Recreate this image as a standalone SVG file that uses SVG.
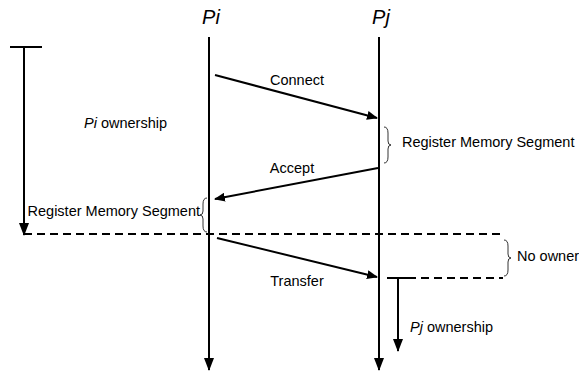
<svg xmlns="http://www.w3.org/2000/svg" width="579" height="375" viewBox="0 0 579 375">
<style>
.t{font-family:"Liberation Sans",Arial,sans-serif;font-size:14.5px;fill:#000}
.h{font-family:"Liberation Sans",Arial,sans-serif;font-size:20px;font-style:italic;fill:#000}
.s{stroke:#000;stroke-width:2;fill:none}
.d{stroke:#000;stroke-width:2;fill:none;stroke-dasharray:8,5}
.b{stroke:#000;stroke-width:0.8;fill:none}
</style>
<defs>
<marker id="ah" markerWidth="11" markerHeight="9" refX="10" refY="4.5" orient="auto" markerUnits="userSpaceOnUse">
<path d="M0,0 L11,4.5 L0,9 Z" fill="#000"/>
</marker>
<marker id="av" markerWidth="14" markerHeight="12" refX="12" refY="5" orient="auto" markerUnits="userSpaceOnUse">
<path d="M0,0 L13,5 L0,10 Z" fill="#000"/>
</marker>
</defs>
<g id="Pi">
<text class="h" x="211" y="24" text-anchor="middle">Pi</text>
<line class="s" x1="209" y1="37" x2="209" y2="370" marker-end="url(#av)"/>
</g>
<g id="Pj">
<text class="h" x="381" y="24" text-anchor="middle">Pj</text>
<line class="s" x1="379" y1="37" x2="379" y2="370" marker-end="url(#av)"/>
</g>
<g id="pi-ownership">
<line class="s" x1="10" y1="47" x2="42" y2="47"/>
<line class="s" x1="24" y1="47" x2="24" y2="235" marker-end="url(#av)"/>
<text class="t" x="84" y="128"><tspan font-style="italic">Pi</tspan> ownership</text>
</g>
<g id="pj-ownership">
<line class="s" x1="387" y1="278" x2="408" y2="278"/>
<line class="s" x1="398" y1="278" x2="398" y2="351" marker-end="url(#av)"/>
<text class="t" x="410" y="332"><tspan font-style="italic">Pj</tspan> ownership</text>
</g>
<g id="no-owner">
<path class="b" d="M504,240 Q508,240 508,246 L508,254 Q508,258 511,258 Q508,258 508,262 L508,270 Q508,276 504,276"/>
<text class="t" x="517" y="261">No owner</text>
</g>
<g id="reg-pj">
<path class="b" d="M384,127 Q388,127 388,133 L388,141 Q388,145 391,145 Q388,145 388,149 L388,157 Q388,163 384,163"/>
<text class="t" x="402" y="147">Register Memory Segment</text>
</g>
<g id="reg-pi">
<path class="b" d="M207,198 Q203,198 203,204 L203,211 Q203,215 200,215 Q203,215 203,219 L203,226 Q203,232 207,232"/>
<text class="t" x="200" y="216" text-anchor="end">Register Memory Segment</text>
</g>
<g id="connectors">
<line class="d" x1="24" y1="234" x2="503" y2="234"/>
<line class="d" x1="408" y1="278" x2="503" y2="278"/>
<line class="s" x1="215" y1="75" x2="377" y2="118" marker-end="url(#ah)"/>
<text class="t" x="297" y="85" text-anchor="middle">Connect</text>
<line class="s" x1="378" y1="168" x2="215" y2="199" marker-end="url(#ah)"/>
<text class="t" x="292" y="173" text-anchor="middle">Accept</text>
<line class="s" x1="217" y1="238" x2="377" y2="277" marker-end="url(#ah)"/>
<text class="t" x="297" y="286" text-anchor="middle">Transfer</text>
</g>
</svg>
